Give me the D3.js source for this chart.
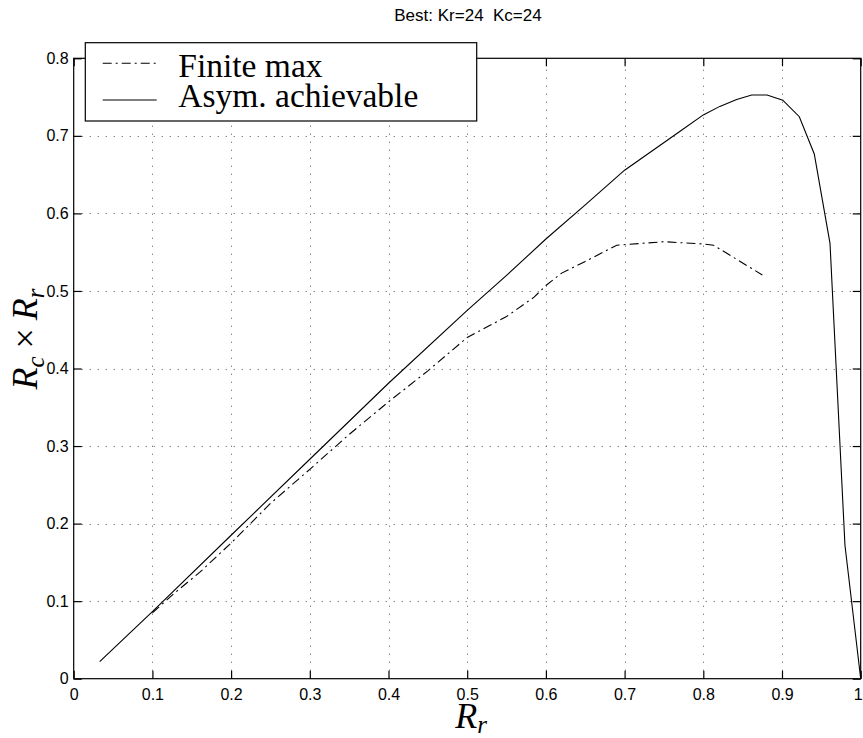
<!DOCTYPE html>
<html>
<head>
<meta charset="utf-8">
<script src="https://cdn.jsdelivr.net/npm/d3@7"></script>
<style>
  html, body { margin: 0; padding: 0; background: #fff; }
  svg { display: block; }
</style>
</head>
<body>
<svg id="chart" width="863" height="738"></svg>
<script>
// ---- data ----
const titleText = "Best: Kr=24  Kc=24";
const xTicks = [0, 0.1, 0.2, 0.3, 0.4, 0.5, 0.6, 0.7, 0.8, 0.9, 1];
const yTicks = [0, 0.1, 0.2, 0.3, 0.4, 0.5, 0.6, 0.7, 0.8];
const xTickLabels = ["0", "0.1", "0.2", "0.3", "0.4", "0.5", "0.6", "0.7", "0.8", "0.9", "1"];
const yTickLabels = ["0", "0.1", "0.2", "0.3", "0.4", "0.5", "0.6", "0.7", "0.8"];
const seriesNames = ["Finite max", "Asym. achievable"];

// Finite max (dash-dot)
const finiteX = [0.10, 0.13, 0.16, 0.20, 0.25, 0.30, 0.35, 0.40, 0.45, 0.50, 0.55, 0.585, 0.60, 0.62, 0.65, 0.69, 0.75, 0.80, 0.813, 0.875];
const finiteY = [0.085, 0.112, 0.137, 0.175, 0.226, 0.270, 0.315, 0.357, 0.397, 0.440, 0.467, 0.492, 0.507, 0.523, 0.538, 0.559, 0.5635, 0.5605, 0.559, 0.5206];

// Asymptotically achievable (solid)
const asymX = [0.033, 0.10, 0.20, 0.30, 0.40, 0.50, 0.55, 0.60, 0.65, 0.70, 0.7705, 0.80, 0.821, 0.8424, 0.8615, 0.881, 0.901, 0.922, 0.941, 0.961, 0.980, 1.0];
const asymY = [0.022, 0.0864, 0.185, 0.283, 0.381, 0.475, 0.520, 0.567, 0.611, 0.6557, 0.706, 0.727, 0.738, 0.747, 0.7527, 0.7527, 0.746, 0.7247, 0.6766, 0.5614, 0.172, 0.0];

// ---- layout ----
const svg = d3.select("#chart");
const L = 73.7, R = 860.7, T = 58.3, B = 678.7;
const x = d3.scaleLinear().domain([0, 1]).range([L, R]);
const y = d3.scaleLinear().domain([0, 0.8]).range([B, T]);

// grid
const grid = svg.append("g").attr("stroke", "#555").attr("stroke-width", 1).attr("stroke-dasharray", "1,7");
grid.selectAll("line.gx").data(xTicks.filter(d => d > 0 && d < 1)).enter().append("line")
  .attr("x1", d => Math.round(x(d)) + 0.5).attr("x2", d => Math.round(x(d)) + 0.5)
  .attr("y1", B).attr("y2", T);
grid.selectAll("line.gy").data(yTicks.filter(d => d > 0 && d < 0.8)).enter().append("line")
  .attr("y1", d => Math.round(y(d)) + 0.5).attr("y2", d => Math.round(y(d)) + 0.5)
  .attr("x1", L).attr("x2", R);

// axes
const fmtX = d => xTickLabels[xTicks.indexOf(d)];
const fmtY = d => yTickLabels[yTicks.indexOf(d)];
const axisFont = "'Liberation Sans', Arial, Helvetica, sans-serif";

const gB = svg.append("g").attr("transform", `translate(0,${B})`)
  .call(d3.axisBottom(x).tickValues(xTicks).tickFormat(fmtX).tickSizeInner(-8).tickSizeOuter(0).tickPadding(10));
const gL = svg.append("g").attr("transform", `translate(${L},0)`)
  .call(d3.axisLeft(y).tickValues(yTicks).tickFormat(fmtY).tickSizeInner(-8).tickSizeOuter(0).tickPadding(5));
const gT = svg.append("g").attr("transform", `translate(0,${T})`)
  .call(d3.axisTop(x).tickValues(xTicks).tickFormat("").tickSizeInner(-8).tickSizeOuter(0));
const gR = svg.append("g").attr("transform", `translate(${R},0)`)
  .call(d3.axisRight(y).tickValues(yTicks).tickFormat("").tickSizeInner(-8).tickSizeOuter(0));
[gB, gL, gT, gR].forEach(g => {
  g.select(".domain").remove();
  g.selectAll("line").attr("stroke", "#000").attr("stroke-width", 1.2);
  g.selectAll("text").attr("font-family", axisFont).attr("font-size", 16).attr("fill", "#000");
});
// keep the last x label inside the window
gB.selectAll(".tick text").filter(d => d === 1).attr("text-anchor", "end").attr("dx", 1.5);

// box
svg.append("rect").attr("x", L).attr("y", T).attr("width", R - L).attr("height", B - T)
  .attr("fill", "none").attr("stroke", "#000").attr("stroke-width", 1.2);

// series
const line = d3.line().x(d => x(d[0])).y(d => y(d[1]));
const finite = finiteX.map((v, i) => [v, finiteY[i]]);
const asym = asymX.map((v, i) => [v, asymY[i]]);
const dashDot = "9,4,2,4";

svg.append("path").datum(asym).attr("d", line)
  .attr("fill", "none").attr("stroke", "#000").attr("stroke-width", 1.1);
svg.append("path").datum(finite).attr("d", line)
  .attr("fill", "none").attr("stroke", "#000").attr("stroke-width", 1.1).attr("stroke-dasharray", dashDot);

// title
svg.append("text").attr("x", 468).attr("y", 21).attr("text-anchor", "middle")
  .attr("font-family", axisFont).attr("font-size", 17).attr("fill", "#000")
  .style("white-space", "pre").text(titleText);

// axis labels (math style)
const mathFont = "'Liberation Serif', 'Times New Roman', serif";
const xl = svg.append("text").attr("x", 471).attr("y", 728).attr("text-anchor", "middle")
  .attr("font-family", mathFont).attr("font-size", 36).attr("fill", "#000");
xl.append("tspan").attr("font-style", "italic").text("R");
xl.append("tspan").attr("font-style", "italic").attr("font-size", 25).attr("dy", 5).text("r");

const yl = svg.append("text").attr("transform", "translate(37,339) rotate(-90)").attr("text-anchor", "middle")
  .attr("font-family", mathFont).attr("font-size", 36).attr("fill", "#000");
yl.append("tspan").attr("font-style", "italic").text("R");
yl.append("tspan").attr("font-style", "italic").attr("font-size", 25).attr("dy", 7).text("c");
yl.append("tspan").attr("dy", -7).attr("dx", 8).text("\u00D7");
yl.append("tspan").attr("font-style", "italic").attr("dx", 8).text("R");
yl.append("tspan").attr("font-style", "italic").attr("font-size", 25).attr("dy", 7).text("r");

// legend
const lg = svg.append("g");
lg.append("rect").attr("x", 85.3).attr("y", 42.7).attr("width", 391.4).attr("height", 78.3)
  .attr("fill", "#fff").attr("stroke", "#000").attr("stroke-width", 1.2);
const rowsY = [63.3, 100];
const rowsBase = [76.7, 107.3];
seriesNames.forEach((name, i) => {
  lg.append("line").attr("x1", 102.7).attr("x2", 156.7).attr("y1", rowsY[i]).attr("y2", rowsY[i])
    .attr("stroke", "#000").attr("stroke-width", 1.1)
    .attr("stroke-dasharray", i === 0 ? dashDot : null);
  lg.append("text").attr("x", 178.3).attr("y", rowsBase[i])
    .attr("font-family", mathFont).attr("font-size", 33.5).attr("fill", "#000").text(name);
});
</script>
</body>
</html>
